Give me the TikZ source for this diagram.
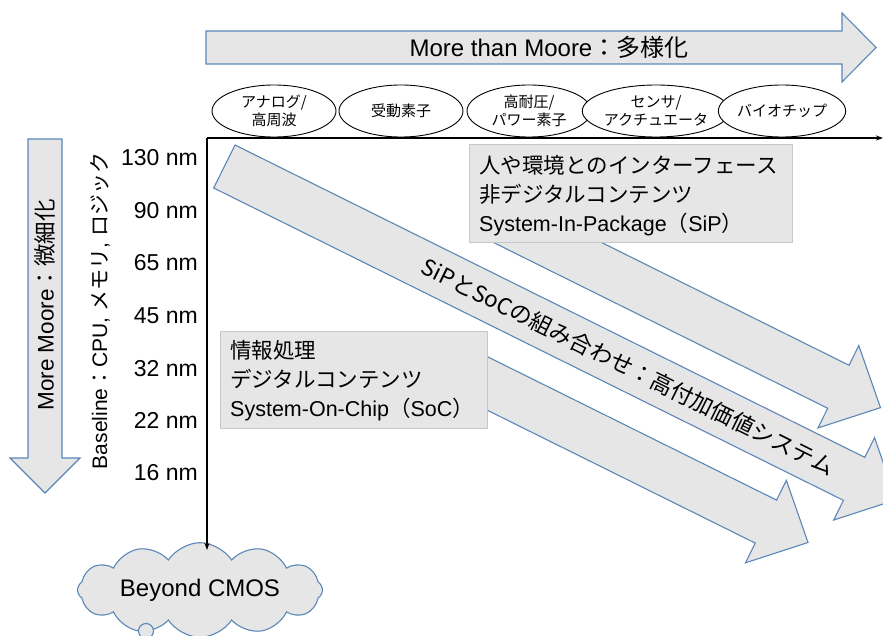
\documentclass[tikz,border=0pt]{standalone}
\usepackage{fontspec}
\setmainfont{Liberation Sans}
\newfontfamily\jp{Noto Sans CJK JP}
\usetikzlibrary{shapes.symbols,shapes.geometric,arrows.meta}
\definecolor{arrfill}{HTML}{E6E6E6}
\definecolor{arrline}{HTML}{5B87B8}
\definecolor{boxline}{HTML}{C8C8C8}
\newcommand{\diagarrow}[3]{%
  \draw[arr] (#1,#3) -- (#2,#3) -- (#2,#3-22) -- (#2+47,#3+24) -- (#2,#3+70) -- (#2,#3+48) -- (#1,#3+48) -- cycle;}
\begin{document}
\begin{tikzpicture}[x=1pt,y=-1pt,
  arr/.style={fill=arrfill,draw=arrline,line width=1.1pt,line join=miter},
  infobox/.style={fill=arrfill,draw=boxline,line width=1pt,inner sep=0pt},
  tag/.style={ellipse,draw=black,line width=0.9pt,fill=white,minimum width=124pt,minimum height=52pt,inner sep=0pt,align=center,font=\fontsize{15}{18}\selectfont\jp},
  boxtext/.style={anchor=west,align=left,inner sep=0pt,font=\fontsize{21.5}{29}\selectfont},
  nm/.style={anchor=east,inner sep=0pt,font=\fontsize{23}{26}\selectfont},
  axisline/.style={line width=1.1pt,-{Stealth[length=7pt,width=5pt]}}
]
\useasboundingbox (0,0) rectangle (883,636);
\clip (0,0) rectangle (883,636);

% top horizontal arrow
\draw[arr] (206,31) -- (842,31) -- (842,13) -- (876,47.5) -- (842,82) -- (842,64) -- (206,64) -- cycle;
\node[font=\fontsize{24}{28}\selectfont] (mtm) at (549,47) {More than Moore{\jp ：多様化}};

% left vertical arrow
\draw[arr] (28,139) -- (62,139) -- (62,458) -- (80,458) -- (45,493) -- (10,458) -- (28,458) -- cycle;
\node[rotate=90,font=\fontsize{22.5}{26}\selectfont] (mm) at (45,305) {More Moore{\jp ：微細化}};

% baseline text
\node[rotate=90,font=\fontsize{21}{24}\selectfont] (base) at (100,311) {Baseline{\jp ：}CPU, {\jp メモリ}, {\jp ロジック}};

% nm labels
\node[nm] (n130) at (198,158) {130 nm};
\node[nm] (n90) at (198,211) {90 nm};
\node[nm] (n65) at (198,263) {65 nm};
\node[nm] (n45) at (198,316) {45 nm};
\node[nm] (n32) at (198,369) {32 nm};
\node[nm] (n22) at (198,420) {22 nm};
\node[nm] (n16) at (198,473) {16 nm};

% ellipses
\node[tag] (e1) at (274,111) {アナログ/\\高周波};
\node[tag] (e2) at (401,111) {受動素子};
\node[tag] (e3) at (529,111) {高耐圧/\\パワー素子};
\node[tag] (e4) at (656,111) {センサ/\\アクチュエータ};
\node[tag] (e5) at (782,111) {バイオチップ};

% diagonal arrows
\begin{scope}[shift={(235,145)},rotate=-26.38]
  \diagarrow{262}{648}{-75.5}
  \diagarrow{0}{703}{0}
  \diagarrow{290}{643}{77.5}
  \node[transform shape,inner sep=0pt,font=\fontsize{22.5}{26}\selectfont\jp] (mid) at (451,24) {SiPとSoCの組み合わせ：高付加価値システム};
\end{scope}

% info boxes
\node[infobox,minimum width=323pt,minimum height=98pt] (sip) at (630.5,194) {};
\node[boxtext] (siptext) at (479,196) {{\jp 人や環境とのインターフェース}\\{\jp 非デジタルコンテンツ}\\System-In-Package{\jp （}SiP{\jp ）}};
\node[infobox,minimum width=267pt,minimum height=97pt] (soc) at (353.5,379.5) {};
\node[boxtext] (soctext) at (230,381) {{\jp 情報処理}\\{\jp デジタルコンテンツ}\\System-On-Chip{\jp （}SoC{\jp ）}};

% cloud
\node[cloud,cloud puffs=12,cloud puff arc=115,aspect=3.5,draw=arrline,fill=arrfill,line width=1.1pt,minimum width=245pt,minimum height=68pt,inner sep=0pt,font=\fontsize{24}{28}\selectfont] (cloud) at (200,590) {Beyond CMOS};
\node[circle,draw=arrline,fill=arrfill,line width=1.1pt,minimum size=15pt,inner sep=0pt] (bubble) at (146,631) {};

% axes
\coordinate (origin) at (207,138);
\coordinate (xend) at (883,138);
\coordinate (yend) at (207,550);
\draw[axisline] (origin) -- (xend);
\draw[axisline] (origin) -- (yend);
\end{tikzpicture}
\end{document}
